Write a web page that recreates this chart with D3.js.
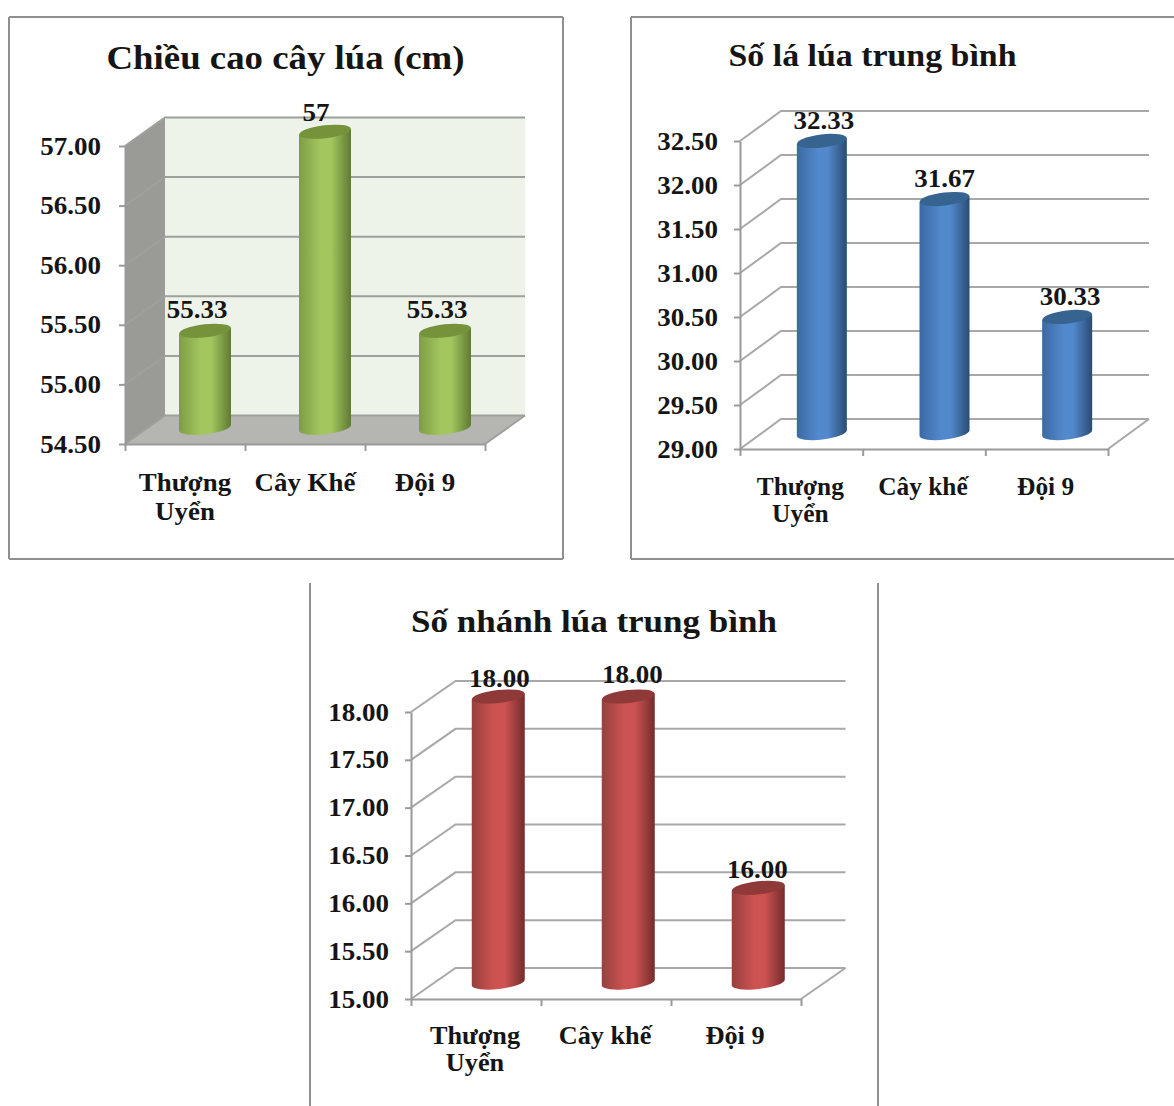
<!DOCTYPE html>
<html lang="vi">
<head>
<meta charset="utf-8">
<title>Chiều cao, số lá và số nhánh lúa</title>
<script src="https://cdn.jsdelivr.net/npm/d3@7/dist/d3.min.js"></script>
<style>
  html, body { margin: 0; padding: 0; background: #fff; }
  svg { display: block; }
  text { font-family: "Liberation Serif", "Times New Roman", serif; font-weight: bold; fill: #151515; }
</style>
</head>
<body>
<svg id="chart" width="1174" height="1106"></svg>
<script>
// Values for the three field comparisons
const heightCategories = ["Thượng Uyển", "Cây Khế", "Đội 9"];
const heightValues = [55.33, 57, 55.33];
const heightLabels = ["55.33", "57", "55.33"];
const heightTicks = [54.5, 55, 55.5, 56, 56.5, 57];

const leafCategories = ["Thượng Uyển", "Cây khế", "Đội 9"];
const leafValues = [32.33, 31.67, 30.33];
const leafLabels = ["32.33", "31.67", "30.33"];
const leafTicks = [29, 29.5, 30, 30.5, 31, 31.5, 32, 32.5];

const branchCategories = ["Thượng Uyển", "Cây khế", "Đội 9"];
const branchValues = [18, 18, 16];
const branchLabels = ["18.00", "18.00", "16.00"];
const branchTicks = [15, 15.5, 16, 16.5, 17, 17.5, 18];

// Panel layout and styling
const panels = [
  {
    title: "Chiều cao cây lúa (cm)", titleX: 285.5, titleY: 69, titleSize: 34, titleWidth: 358,
    categories: heightCategories, values: heightValues, labels: heightLabels, ticks: heightTicks,
    x: [125, 485], y: [444, 146], depth: [40, -28.5], barWidth: 52,
    labelShift: [[-8, -13], [-9, -11], [-8, -13]], catY: 491, catStep: 29, catWiden: 1.075, catDx: 0,
    tickGap: 18, barDrop: -2,
    walls: { side: "#9a9b96", floor: "#b5b6b2", back: "#eef3ea" },
    grid: "#9da09b",
    cyl: { edgeL: "#7f9c45", mid: "#a3c65e", edgeR: "#5f7a33", cap: "#76933c" },
    frame: [[9, 17, 9, 559], [9, 17, 563, 17], [563, 17, 563, 559], [9, 559, 563, 559]]
  },
  {
    title: "Số lá lúa trung bình", titleX: 872.5, titleY: 66, titleSize: 32, titleWidth: 288,
    categories: leafCategories, values: leafValues, labels: leafLabels, ticks: leafTicks,
    x: [740, 1108], y: [449, 141], depth: [41, -30], barWidth: 50,
    labelShift: [[2, -12], [0, -12], [3, -12]], catY: 495, catStep: 27, catWiden: 1.015, catDx: -1,
    tickGap: 16, barDrop: -1,
    walls: null,
    grid: "#a8a8a8",
    cyl: { edgeL: "#3a6aa3", mid: "#5288cc", edgeR: "#294c73", cap: "#376390" },
    frame: [[631, 17, 631, 559], [631, 17, 1174, 17], [631, 559, 1174, 559]]
  },
  {
    title: "Số nhánh lúa trung bình", titleX: 594, titleY: 632, titleSize: 32, titleWidth: 366,
    categories: branchCategories, values: branchValues, labels: branchLabels, ticks: branchTicks,
    x: [411, 801], y: [999, 712], depth: [44.5, -31], barWidth: 53,
    labelShift: [[1, -10], [4, -14], [-1, -10]], catY: 1044, catStep: 27, catWiden: 1.05, catDx: -1,
    tickGap: 16, barDrop: -1,
    walls: null,
    grid: "#a8a8a8",
    cyl: { edgeL: "#97403e", mid: "#cc5352", edgeR: "#742c2b", cap: "#8f3a38" },
    frame: [[310, 583, 310, 1106], [878, 583, 878, 1106]]
  }
];

const svg = d3.select("#chart");
const defs = svg.append("defs");
const AXIS_GREY = "#9a9a9a";
const NUMBER_WIDEN = 1.08;

// Widen a text run horizontally, keeping its glyph height
function widen(sel, factor, target) {
  sel.each(function () {
    const w = this.getComputedTextLength();
    d3.select(this)
      .attr("textLength", target || w * factor)
      .attr("lengthAdjust", "spacingAndGlyphs");
  });
}

panels.forEach((p, idx) => {
  const g = svg.append("g");
  const [dx, dy] = p.depth;
  const domain = d3.extent(p.ticks);
  const y = d3.scaleLinear().domain(domain).range(p.y);
  const x = d3.scaleBand().domain(p.categories).range(p.x);

  // Frame around the panel
  g.selectAll("line.frame").data(p.frame).join("line")
    .attr("class", "frame")
    .attr("x1", d => d[0]).attr("y1", d => d[1])
    .attr("x2", d => d[2]).attr("y2", d => d[3])
    .attr("stroke", "#8f8f8f")
    .attr("stroke-width", 2);

  // Shaded walls and floor of the 3D box
  const y0 = y(domain[0]), y1 = y(domain[1]);
  if (p.walls) {
    g.append("rect")
      .attr("x", p.x[0] + dx).attr("y", y1 + dy)
      .attr("width", p.x[1] - p.x[0]).attr("height", y0 - y1)
      .attr("fill", p.walls.back);
    g.append("path")
      .attr("d", `M${p.x[0]},${y0}L${p.x[0]},${y1}L${p.x[0] + dx},${y1 + dy}L${p.x[0] + dx},${y0 + dy}Z`)
      .attr("fill", p.walls.side);
    g.append("path")
      .attr("d", `M${p.x[0]},${y0}L${p.x[1]},${y0}L${p.x[1] + dx},${y0 + dy}L${p.x[0] + dx},${y0 + dy}Z`)
      .attr("fill", p.walls.floor);
  }

  // Gridlines: one diagonal up the side wall and one run along the back wall
  const gridPath = t => `M${p.x[0]},${y(t)}L${p.x[0] + dx},${y(t) + dy}L${p.x[1] + dx},${y(t) + dy}`;
  g.selectAll("path.grid").data(p.ticks).join("path")
    .attr("class", "grid")
    .attr("d", gridPath)
    .attr("fill", "none")
    .attr("stroke", p.grid)
    .attr("stroke-width", 2);

  // Right edge of the floor
  g.append("line")
    .attr("x1", p.x[1]).attr("y1", y0)
    .attr("x2", p.x[1] + dx).attr("y2", y0 + dy)
    .attr("stroke", p.grid).attr("stroke-width", 2);

  // Value axis
  const yAxis = g.append("g")
    .attr("transform", `translate(${p.x[0]},0)`)
    .call(d3.axisLeft(y).tickValues(p.ticks).tickFormat(d3.format(".2f")).tickSize(6).tickPadding(p.tickGap).tickSizeOuter(0));
  yAxis.selectAll("line, path").attr("stroke", AXIS_GREY).attr("stroke-width", 2);
  yAxis.selectAll("text")
    .attr("font-size", 25).attr("font-family", null).attr("fill", "#151515")
    .attr("dy", "0.32em")
    .style("font-family", '"Liberation Serif", serif')
    .call(widen, NUMBER_WIDEN);

  // Category axis, with ticks on the band boundaries
  const xAxisLine = g.append("g").attr("transform", `translate(0,${y0})`);
  const edges = p.categories.map(c => x(c)).concat(p.x[1]);
  xAxisLine.call(
    d3.axisBottom(d3.scaleLinear().domain(p.x).range(p.x))
      .tickValues(edges).tickSize(7).tickSizeOuter(0).tickFormat("")
  );
  xAxisLine.selectAll("line, path").attr("stroke", AXIS_GREY).attr("stroke-width", 2);

  // Category labels, wrapped to two lines when wider than the band
  p.categories.forEach(cat => {
    const cx = x(cat) + x.bandwidth() / 2 + p.catDx;
    const probe = g.append("text").attr("font-size", 25).text(cat);
    const tooWide = probe.node().getComputedTextLength() * p.catWiden > x.bandwidth();
    probe.remove();
    const lines = tooWide ? cat.split(" ") : [cat];
    lines.forEach((line, i) => {
      g.append("text")
        .attr("x", cx).attr("y", p.catY + i * p.catStep)
        .attr("text-anchor", "middle").attr("font-size", 25)
        .text(line).call(widen, p.catWiden);
    });
  });

  // Horizontal shading across the cylinders
  const gradId = `cyl-${idx}`;
  const grad = defs.append("linearGradient").attr("id", gradId);
  [[0, p.cyl.edgeL], [0.42, p.cyl.mid], [0.62, p.cyl.mid], [1, p.cyl.edgeR]]
    .forEach(([o, c]) => grad.append("stop").attr("offset", o).attr("stop-color", c));

  // Tilted cylinders standing halfway into the box depth
  const r = p.barWidth / 2, ry = 6.5, slant = 3;
  const tilt = -Math.atan2(slant, r) * 180 / Math.PI;
  p.values.forEach((v, i) => {
    const cx = x(p.categories[i]) + x.bandwidth() / 2 + dx / 2;
    const topY = y(v) + dy / 2, botY = y0 + dy / 2 + p.barDrop;
    g.append("path")
      .attr("d", `M${cx - r},${topY + slant}L${cx - r},${botY + slant}` +
        `A${r},${ry} ${tilt} 0 0 ${cx + r},${botY - slant}` +
        `L${cx + r},${topY - slant}Z`)
      .attr("fill", `url(#${gradId})`);
    g.append("ellipse")
      .attr("transform", `translate(${cx},${topY}) rotate(${tilt})`)
      .attr("rx", r).attr("ry", ry)
      .attr("fill", p.cyl.cap);
    const [sx, sy] = p.labelShift[i];
    g.append("text")
      .attr("x", cx + sx).attr("y", topY + sy)
      .attr("text-anchor", "middle").attr("font-size", 25)
      .text(p.labels[i]).call(widen, NUMBER_WIDEN);
  });

  // Title
  g.append("text")
    .attr("x", p.titleX).attr("y", p.titleY)
    .attr("text-anchor", "middle").attr("font-size", p.titleSize)
    .text(p.title).call(widen, 1, p.titleWidth);
});
</script>
</body>
</html>
